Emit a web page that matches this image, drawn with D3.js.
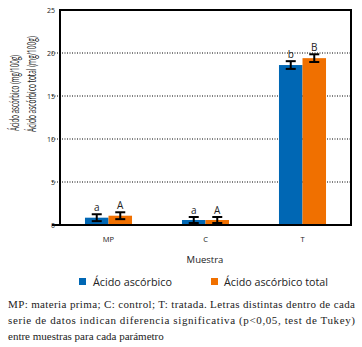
<!DOCTYPE html>
<html lang="es">
<head>
<meta charset="UTF-8" />
<script src="https://d3js.org/d3.v7.min.js"></script>
<style>
  body { margin: 0; background: #fff; }
  svg { display: block; }
  .sans { font-family: "Open Sans", "Noto Sans", sans-serif; }
  .serif { font-family: "Liberation Serif", "DejaVu Serif", serif; }
</style>
</head>
<body>
<svg width="362" height="347"></svg>
<script>
// datos
const muestras = ["MP", "C", "T"];
const series = ["Ácido ascórbico", "Ácido ascórbico total"];
const acido = [0.85, 0.58, 18.6];
const acidoErr = [0.4, 0.35, 0.45];
const acidoLetra = ["a", "a", "b"];
const total = [1.08, 0.58, 19.4];
const totalErr = [0.4, 0.35, 0.45];
const totalLetra = ["A", "A", "B"];
const yTicks = [0, 5, 10, 15, 20, 25];
const colores = ["#0067b4", "#f07000"];

const svg = d3.select("svg");
const m = { left: 60, right: 351, top: 10, bottom: 225 };

const x = d3.scaleBand().domain(muestras).range([m.left, m.right]);
const xs = d3.scaleBand().domain(series).range([0, x.bandwidth() * 0.485]);
const y = d3.scaleLinear().domain([0, 25]).range([m.bottom, m.top]);

const datos = [];
muestras.forEach((mu, i) => {
  datos.push({ mu, s: series[0], v: acido[i], e: acidoErr[i], l: acidoLetra[i], c: colores[0] });
  datos.push({ mu, s: series[1], v: total[i], e: totalErr[i], l: totalLetra[i], c: colores[1] });
});
const off = (x.bandwidth() - xs.range()[1]) / 2;
const bx = d => x(d.mu) + off + xs(d.s);

// líneas de cuadrícula punteadas
svg.append("g").selectAll("line")
  .data(yTicks.filter(t => t > 0 && t < 25))
  .join("line")
  .attr("x1", m.left - 8).attr("x2", m.right)
  .attr("y1", d => y(d)).attr("y2", d => y(d))
  .attr("stroke", "#000").attr("stroke-width", 1)
  .attr("stroke-dasharray", "1,1.5");

// barras
svg.append("g").selectAll("rect")
  .data(datos)
  .join("rect")
  .attr("x", bx)
  .attr("width", xs.bandwidth())
  .attr("y", d => y(d.v))
  .attr("height", d => y(0) - y(d.v))
  .attr("fill", d => d.c);

// barras de error
const eb = svg.append("g").attr("stroke", "#000").attr("stroke-width", 2);
datos.forEach(d => {
  const cx = bx(d) + xs.bandwidth() / 2;
  eb.append("line").attr("x1", cx).attr("x2", cx).attr("y1", y(d.v + d.e)).attr("y2", y(d.v - d.e));
  eb.append("line").attr("x1", cx - 5).attr("x2", cx + 5).attr("y1", y(d.v + d.e)).attr("y2", y(d.v + d.e));
  eb.append("line").attr("x1", cx - 5).attr("x2", cx + 5).attr("y1", y(d.v - d.e)).attr("y2", y(d.v - d.e));
});

// letras
svg.append("g").attr("class", "sans").selectAll("text")
  .data(datos)
  .join("text")
  .attr("x", d => bx(d) + xs.bandwidth() / 2)
  .attr("y", d => y(d.v + d.e) - 3)
  .attr("text-anchor", "middle")
  .attr("font-size", 10)
  .attr("fill", "#222")
  .text(d => d.l);

// marco
svg.append("rect")
  .attr("x", m.left).attr("y", m.top)
  .attr("width", m.right - m.left).attr("height", m.bottom - m.top)
  .attr("fill", "none").attr("stroke", "#000").attr("stroke-width", 2);
svg.append("line").attr("x1", m.left - 8).attr("x2", m.left)
  .attr("y1", y(0)).attr("y2", y(0)).attr("stroke", "#000").attr("stroke-width", 2);

// etiquetas del eje Y
svg.append("g").attr("class", "sans").selectAll("text")
  .data(yTicks)
  .join("text")
  .attr("x", 55).attr("y", d => y(d) + 2.5)
  .attr("text-anchor", "end")
  .attr("font-size", 7)
  .attr("fill", "#222")
  .text(d => d);

// etiquetas del eje X
svg.append("g").attr("class", "sans").selectAll("text")
  .data(muestras)
  .join("text")
  .attr("x", d => x(d) + x.bandwidth() / 2)
  .attr("y", 242)
  .attr("text-anchor", "middle")
  .attr("font-size", 7.5)
  .attr("fill", "#222")
  .text(d => d);

svg.append("text").attr("class", "sans")
  .attr("x", 205).attr("y", 263)
  .attr("text-anchor", "middle").attr("font-size", 9.5).attr("fill", "#222")
  .text("Muestra");

// título eje Y (dos líneas, letra condensada)
const yl = svg.append("g").attr("class", "sans").attr("font-size", 12).attr("fill", "#222");
[["Ácido ascórbico (mg/100g)", 19, 131, 76], ["Ácido ascórbico total (mg/100g)", 36, 132, 96]]
  .forEach(([txt, tx, ty, len]) => {
    const t = yl.append("text").text(txt);
    const sx = len / t.node().getComputedTextLength();
    t.attr("transform", `translate(${tx},${ty}) rotate(-90) scale(${sx},1)`);
  });

// leyenda
const leg = svg.append("g").attr("class", "sans").attr("font-size", 10).attr("fill", "#222");
[[79, 93, 79], [211, 224, 104]].forEach((p, i) => {
  leg.append("rect").attr("x", p[0]).attr("y", 278).attr("width", 7).attr("height", 7).attr("fill", colores[i]);
  leg.append("text").attr("x", p[1]).attr("y", 285.5)
    .attr("textLength", p[2]).attr("lengthAdjust", "spacingAndGlyphs").text(series[i]);
});

// nota al pie
const nota = [
  "MP: materia prima; C: control; T: tratada. Letras distintas dentro de cada",
  "serie de datos indican diferencia significativa (p<0,05, test de Tukey)",
  "entre muestras para cada parámetro"
];
svg.append("g").attr("class", "serif").attr("font-size", 11).attr("fill", "#222")
  .selectAll("text").data(nota).join("text")
  .attr("x", 8).attr("y", (d, i) => 308 + i * 16)
  .attr("textLength", (d, i) => i < 2 ? 347 : null)
  .attr("lengthAdjust", "spacing")
  .text(d => d);
</script>
</body>
</html>
